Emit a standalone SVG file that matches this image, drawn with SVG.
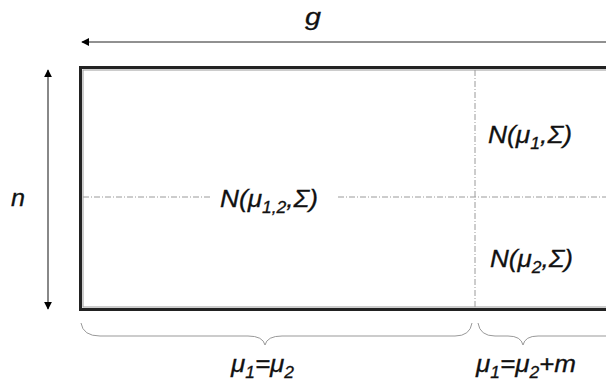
<svg xmlns="http://www.w3.org/2000/svg" width="606" height="381" viewBox="0 0 606 381">
<style>
.lbl{font-family:"Liberation Sans",Arial,sans-serif;font-style:italic;font-size:24px;fill:#111;stroke:#111;stroke-width:0.3}
.sub{font-size:16px}
.dash{stroke:#9a9a9a;stroke-width:1;fill:none;stroke-dasharray:6,2,1,2}
.brace{stroke:#999;stroke-width:1;fill:none}
</style>
<defs>
<marker id="ah" viewBox="0 0 10 10" refX="9" refY="5" markerWidth="8" markerHeight="8" markerUnits="userSpaceOnUse" orient="auto-start-reverse">
<path d="M0,0 L10,5 L0,10 z" fill="#000"/>
</marker>
</defs>
<g id="connectors">
<line x1="612" y1="42" x2="82" y2="42" stroke="#222" stroke-width="1" marker-end="url(#ah)"/>
<line x1="48" y1="70" x2="48" y2="309" stroke="#888" stroke-width="2" marker-start="url(#ah)" marker-end="url(#ah)"/>
</g>
<g id="matrix">
<rect x="80.5" y="67.5" width="540" height="242" fill="#fff" stroke="#222" stroke-width="3"/>
<rect x="83" y="70" width="535" height="237" fill="none" stroke="#999" stroke-width="1"/>
<line class="dash" x1="475" y1="70" x2="475" y2="307"/>
<line class="dash" x1="83" y1="197" x2="212" y2="197"/>
<line class="dash" x1="338" y1="197" x2="606" y2="197"/>
</g>
<g id="label-g"><text class="lbl" x="305" y="25" textLength="16" lengthAdjust="spacingAndGlyphs">g</text></g>
<g id="label-n"><text class="lbl" x="11" y="206" textLength="14" lengthAdjust="spacingAndGlyphs">n</text></g>
<g id="node-n12">
<text class="lbl" x="220" y="207" textLength="98" lengthAdjust="spacingAndGlyphs">N(μ<tspan class="sub" dy="6">1,2</tspan><tspan dy="-6">,Σ)</tspan></text>
</g>
<g id="node-n1">
<text class="lbl" x="488" y="143" textLength="84" lengthAdjust="spacingAndGlyphs">N(μ<tspan class="sub" dy="6">1</tspan><tspan dy="-6">,Σ)</tspan></text>
</g>
<g id="node-n2">
<text class="lbl" x="490" y="267" textLength="83" lengthAdjust="spacingAndGlyphs">N(μ<tspan class="sub" dy="6">2</tspan><tspan dy="-6">,Σ)</tspan></text>
</g>
<g id="brace-left">
<path class="brace" d="M81,323 Q83,336 100,336 L248,336 Q263,336 265,345 Q267,336 282,336 L455,336 Q470,336 472,323"/>
<text class="lbl" x="231" y="372" textLength="63" lengthAdjust="spacingAndGlyphs">μ<tspan class="sub" dy="6">1</tspan><tspan dy="-6">=μ</tspan><tspan class="sub" dy="6">2</tspan></text>
</g>
<g id="brace-right">
<path class="brace" d="M478,323 Q480,336 495,336 L508,336 Q521,336 523,345 Q525,336 538,336 L620,336"/>
<text class="lbl" x="476" y="372" textLength="100" lengthAdjust="spacingAndGlyphs">μ<tspan class="sub" dy="6">1</tspan><tspan dy="-6">=μ</tspan><tspan class="sub" dy="6">2</tspan><tspan dy="-6">+m</tspan></text>
</g>
</svg>
